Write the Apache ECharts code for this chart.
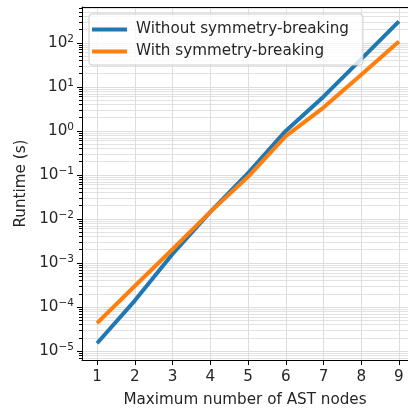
<!DOCTYPE html>
<html>
<head>
<meta charset="utf-8">
<script src="https://cdn.jsdelivr.net/npm/echarts@6/dist/echarts.min.js"></script>
<style>
  html, body { margin: 0; padding: 0; background: #fff; }
  #chart { width: 408px; height: 413px; }
</style>
</head>
<body>
<div id="chart"></div>
<script>
const nodes = [1, 2, 3, 4, 5, 6, 7, 8, 9];
const withoutSB = [1.5e-5, 1.4e-4, 1.6e-3, 1.45e-2, 0.11, 1.0, 6.0, 43, 310];
const withSB = [4.3e-5, 3.0e-4, 2.05e-3, 1.45e-2, 0.091, 0.76, 3.4, 19, 108];
const decades = [-5, -4, -3, -2, -1, 0, 1, 2];

const majorVals = decades.map(e => Math.pow(10, e));
const minorVals = [];
for (let e = -6; e <= 2; e++) {
  for (let k = 2; k <= 9; k++) minorVals.push(k * Math.pow(10, e));
}

const chart = echarts.init(document.getElementById('chart'));
const font = 'DejaVu Sans';
const ink = '#262626';
const fs = 15.2;

function supLabel(v) {
  const e = Math.round(Math.log10(v));
  const s = e < 0 ? '\u2212' + (-e) : String(e);
  return '{b|10}{s|' + s + '}';
}

// plot area runs past the right edge of the picture (x max 9.4 would sit at ~414px)
let option = {
  animation: false,
  textStyle: { fontFamily: font },
  grid: { left: 82, top: 7, right: 0, bottom: 52 },
  legend: {
    orient: 'vertical',
    left: 89, top: 14,
    icon: 'rect',
    itemWidth: 35, itemHeight: 4, itemGap: 7,
    padding: [8, 14, 6, 3],
    backgroundColor: 'rgba(255,255,255,0.8)',
    borderColor: '#cccccc', borderWidth: 1, borderRadius: 3,
    textStyle: { fontFamily: font, fontSize: fs, color: ink, padding: [0, 0, 0, 4] },
    data: ['Without symmetry-breaking', 'With symmetry-breaking']
  },
  xAxis: [
    {
      type: 'value', min: 0.6, max: 9.24,
      name: 'Maximum number of AST nodes', nameLocation: 'middle', nameGap: 33,
      nameTextStyle: { fontFamily: font, fontSize: fs, color: ink },
      axisLine: { lineStyle: { color: '#000' } },
      axisTick: { customValues: nodes, length: 5, lineStyle: { color: '#000' } },
      axisLabel: { customValues: nodes, margin: 10, fontFamily: font, fontSize: fs, color: ink },
      splitLine: { show: true, lineStyle: { color: '#dddddd', width: 1 } }
    },
    {
      type: 'value', min: 0.6, max: 9.24, position: 'top',
      axisLine: { show: true, lineStyle: { color: '#000' } },
      axisTick: { show: false },
      axisLabel: { show: false },
      splitLine: { show: false }
    }
  ],
  yAxis: [
    {
      type: 'log', min: 6.25e-6, max: 655,
      name: 'Runtime (s)', nameLocation: 'middle', nameGap: 53, nameRotate: 90,
      nameTextStyle: { fontFamily: font, fontSize: fs, color: ink },
      axisLine: { lineStyle: { color: '#000' } },
      axisTick: { customValues: majorVals, length: 5, lineStyle: { color: '#000' } },
      axisLabel: {
        customValues: majorVals, margin: 8, formatter: supLabel,
        rich: {
          b: { fontFamily: font, fontSize: fs, color: ink },
          s: { fontFamily: font, fontSize: 10.5, color: ink, padding: [0, 0, 8, 0] }
        }
      },
      splitLine: { show: true, lineStyle: { color: '#dddddd', width: 1 } }
    },
    {
      type: 'log', min: 6.25e-6, max: 655, position: 'left',
      axisLine: { show: false },
      axisTick: { customValues: minorVals, length: 3, lineStyle: { color: '#000' } },
      axisLabel: { show: false },
      splitLine: { show: true, lineStyle: { color: '#e2e2e2', width: 1 } }
    }
  ],
  series: [
    {
      name: 'Without symmetry-breaking', type: 'line',
      data: nodes.map((n, i) => [n, withoutSB[i]]),
      showSymbol: false, color: '#1f77b4',
      lineStyle: { width: 4, color: '#1f77b4' }
    },
    {
      name: 'With symmetry-breaking', type: 'line',
      data: nodes.map((n, i) => [n, withSB[i]]),
      showSymbol: false, color: '#ff7f0e',
      lineStyle: { width: 4, color: '#ff7f0e' }
    }
  ]
};

chart.setOption(option);
</script>
</body>
</html>
